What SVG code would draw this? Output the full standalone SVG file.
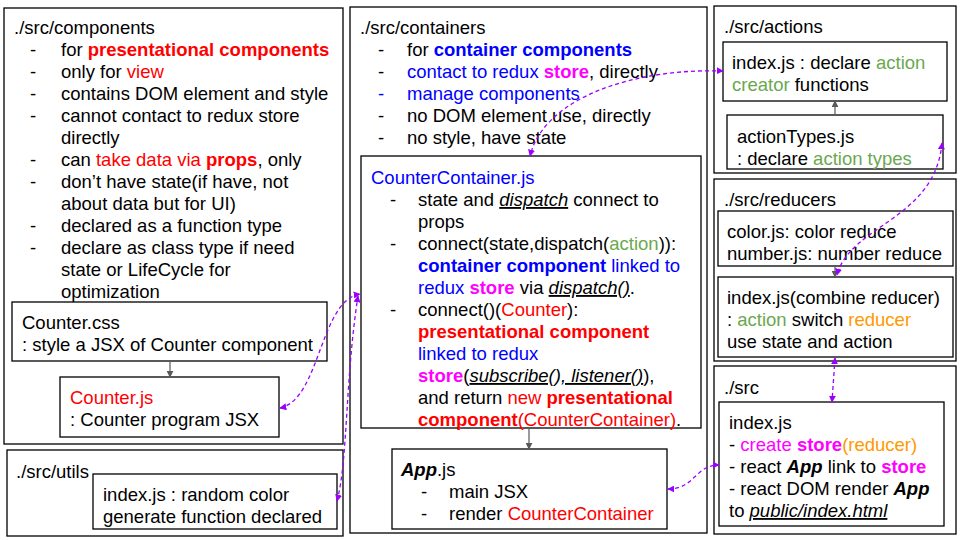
<svg xmlns="http://www.w3.org/2000/svg" width="960" height="540" viewBox="0 0 960 540">
<defs>
<style>
.b{fill:#fff;stroke:#000;stroke-width:1.3}
text{font-family:"Liberation Sans",Arial,sans-serif;font-size:18.5px;fill:#000}
.r{fill:#f00}.bl{fill:#00f}.m{fill:#f0f}.g{fill:#6aa84f}.o{fill:#f90}.k{fill:#000}
.bd{font-weight:bold}.it{font-style:italic}.u{text-decoration:underline}
.gc{stroke:#595959;stroke-width:1.2;fill:none}
.pc{stroke:#9900ff;stroke-width:1.3;stroke-dasharray:4 3;fill:none}
</style>
<marker id="ga" viewBox="0 0 10 10" refX="9" refY="5" markerWidth="7" markerHeight="7" markerUnits="userSpaceOnUse" orient="auto"><path d="M0,0 L10,5 L0,10 z" fill="#595959"/></marker>
<marker id="pa" viewBox="0 0 10 10" refX="9" refY="5" markerWidth="7" markerHeight="7" markerUnits="userSpaceOnUse" orient="auto-start-reverse"><path d="M0,0 L10,5 L0,10 z" fill="#9900ff"/></marker>
</defs>
<rect width="960" height="540" fill="#fff"/>

<g id="components">
<rect class="b" x="4" y="8" width="339" height="436"/>
<text x="14" y="34">./src/components</text>
<text x="30" y="56">-</text><text x="61" y="56">for <tspan class="r bd">presentational components</tspan></text>
<text x="30" y="78">-</text><text x="61" y="78">only for <tspan class="r">view</tspan></text>
<text x="30" y="100">-</text><text x="61" y="100">contains DOM element and style</text>
<text x="30" y="122">-</text><text x="61" y="122">cannot contact to redux store</text>
<text x="61" y="144">directly</text>
<text x="30" y="166">-</text><text x="61" y="166">can <tspan class="r">take data via </tspan><tspan class="r bd">props</tspan>, only</text>
<text x="30" y="188">-</text><text x="61" y="188">don’t have state(if have, not</text>
<text x="61" y="210">about data but for UI)</text>
<text x="30" y="232">-</text><text x="61" y="232">declared as a function type</text>
<text x="30" y="254">-</text><text x="61" y="254">declare as class type if need</text>
<text x="61" y="276">state or LifeCycle for</text>
<text x="61" y="298">optimization</text>
</g>

<g id="counter-css">
<rect class="b" x="12" y="302" width="315" height="59"/>
<text x="22" y="329">Counter.css</text>
<text x="22" y="351">: style a JSX of Counter component</text>
</g>

<g id="counter-js">
<rect class="b" x="60" y="377" width="219" height="60"/>
<text x="70" y="404" class="r">Counter.js</text>
<text x="70" y="426">: Counter program JSX</text>
</g>

<g id="utils">
<rect class="b" x="7" y="450" width="336" height="86"/>
<text x="16" y="478">./src/utils</text>
</g>

<g id="utils-index">
<rect class="b" x="93" y="474" width="244" height="55"/>
<text x="103" y="501">index.js : random color</text>
<text x="103" y="523">generate function declared</text>
</g>

<g id="containers">
<rect class="b" x="350" y="7" width="357" height="526"/>
<text x="360" y="34">./src/containers</text>
<text x="378" y="56">-</text><text x="407" y="56">for <tspan class="bl bd">container components</tspan></text>
<text x="378" y="78">-</text><text x="407" y="78" class="bl">contact to redux <tspan class="m bd">store</tspan><tspan class="k">, directly</tspan></text>
<text x="378" y="100" class="bl">-</text><text x="407" y="100" class="bl">manage components</text>
<text x="378" y="122">-</text><text x="407" y="122">no DOM element use, directly</text>
<text x="378" y="144">-</text><text x="407" y="144">no style, have state</text>
</g>

<g id="counter-container">
<rect class="b" x="361" y="156" width="340" height="272"/>
<text x="371" y="184" class="bl">CounterContainer.js</text>
<text x="390" y="206">-</text><text x="418" y="206">state and <tspan class="it u">dispatch</tspan> connect to</text>
<text x="418" y="228">props</text>
<text x="390" y="250">-</text><text x="418" y="250">connect(state,dispatch(<tspan class="g">action</tspan>)):</text>
<text x="418" y="272" class="bl"><tspan class="bd">container component</tspan> linked to</text>
<text x="418" y="294" class="bl">redux <tspan class="m bd">store</tspan><tspan class="k"> via </tspan><tspan class="k it u">dispatch()</tspan><tspan class="k">.</tspan></text>
<text x="390" y="316">-</text><text x="418" y="316">connect()(<tspan class="r">Counter</tspan>):</text>
<text x="418" y="338" class="r bd">presentational component</text>
<text x="418" y="360" class="bl">linked to redux</text>
<text x="418" y="382"><tspan class="m bd">store</tspan>(<tspan class="it u">subscribe(), listener()</tspan>),</text>
<text x="418" y="404">and return <tspan class="r">new </tspan><tspan class="r bd">presentational</tspan></text>
<text x="418" y="426"><tspan class="r bd">component</tspan><tspan class="r">(CounterContainer)</tspan>.</text>
</g>

<g id="app-js">
<rect class="b" x="392" y="449" width="275" height="80"/>
<text x="401" y="476"><tspan class="bd it">App</tspan>.js</text>
<text x="421" y="498">-</text><text x="449" y="498">main JSX</text>
<text x="421" y="520">-</text><text x="449" y="520">render <tspan class="r">CounterContainer</tspan></text>
</g>

<g id="actions">
<rect class="b" x="714" y="6" width="242" height="167"/>
<text x="724" y="33">./src/actions</text>
</g>
<g id="actions-index">
<rect class="b" x="723" y="42" width="224" height="59"/>
<text x="732" y="69">index.js : declare <tspan class="g">action</tspan></text>
<text x="732" y="91"><tspan class="g">creator</tspan> functions</text>
</g>
<g id="action-types">
<rect class="b" x="727" y="115" width="216" height="54"/>
<text x="737" y="143">actionTypes.js</text>
<text x="737" y="165">: declare <tspan class="g">action types</tspan></text>
</g>

<g id="reducers">
<rect class="b" x="714" y="179" width="242" height="182"/>
<text x="724" y="206">./src/reducers</text>
</g>
<g id="reducers-files">
<rect class="b" x="718" y="211" width="235" height="55"/>
<text x="727" y="238">color.js: color reduce</text>
<text x="727" y="260">number.js: number reduce</text>
</g>
<g id="reducers-index">
<rect class="b" x="718" y="277" width="235" height="80"/>
<text x="727" y="304">index.js(combine reducer)</text>
<text x="727" y="326">: <tspan class="g">action</tspan> switch <tspan class="o">reducer</tspan></text>
<text x="727" y="348">use state and action</text>
</g>

<g id="src">
<rect class="b" x="714" y="366" width="242" height="168"/>
<text x="724" y="394">./src</text>
</g>
<g id="src-index">
<rect class="b" x="719" y="402" width="225" height="124"/>
<text x="729" y="429">index.js</text>
<text x="729" y="451">- <tspan class="m">create </tspan><tspan class="m bd">store</tspan><tspan class="o">(reducer)</tspan></text>
<text x="729" y="473">- react <tspan class="bd it">App</tspan> link to <tspan class="m bd">store</tspan></text>
<text x="729" y="495">- react DOM render <tspan class="bd it">App</tspan></text>
<text x="729" y="517">to <tspan class="it u">public/index.html</tspan></text>
</g>

<g id="connectors">
<line class="gc" x1="170" y1="361" x2="170" y2="377" marker-end="url(#ga)"/>
<line class="gc" x1="835" y1="115" x2="835" y2="101" marker-end="url(#ga)"/>
<line class="gc" x1="835" y1="266" x2="835" y2="277" marker-end="url(#ga)"/>
<line class="gc" x1="529" y1="428" x2="529" y2="449" marker-end="url(#ga)"/>
<path class="pc" d="M723,71 C640,68 545,95 530,156" marker-start="url(#pa)" marker-end="url(#pa)"/>
<path class="pc" d="M280,408 C320,400 320,300 360,294" marker-start="url(#pa)" marker-end="url(#pa)"/>
<path class="pc" d="M337,501 C348,460 345,380 358,296" marker-start="url(#pa)" marker-end="url(#pa)"/>
<path class="pc" d="M942,143 C935,220 850,225 837,275" marker-start="url(#pa)" marker-end="url(#pa)"/>
<path class="pc" d="M835,358 L832,402" marker-start="url(#pa)" marker-end="url(#pa)"/>
<path class="pc" d="M668,489 C695,489 695,465 719,465" marker-start="url(#pa)" marker-end="url(#pa)"/>
</g>
</svg>
